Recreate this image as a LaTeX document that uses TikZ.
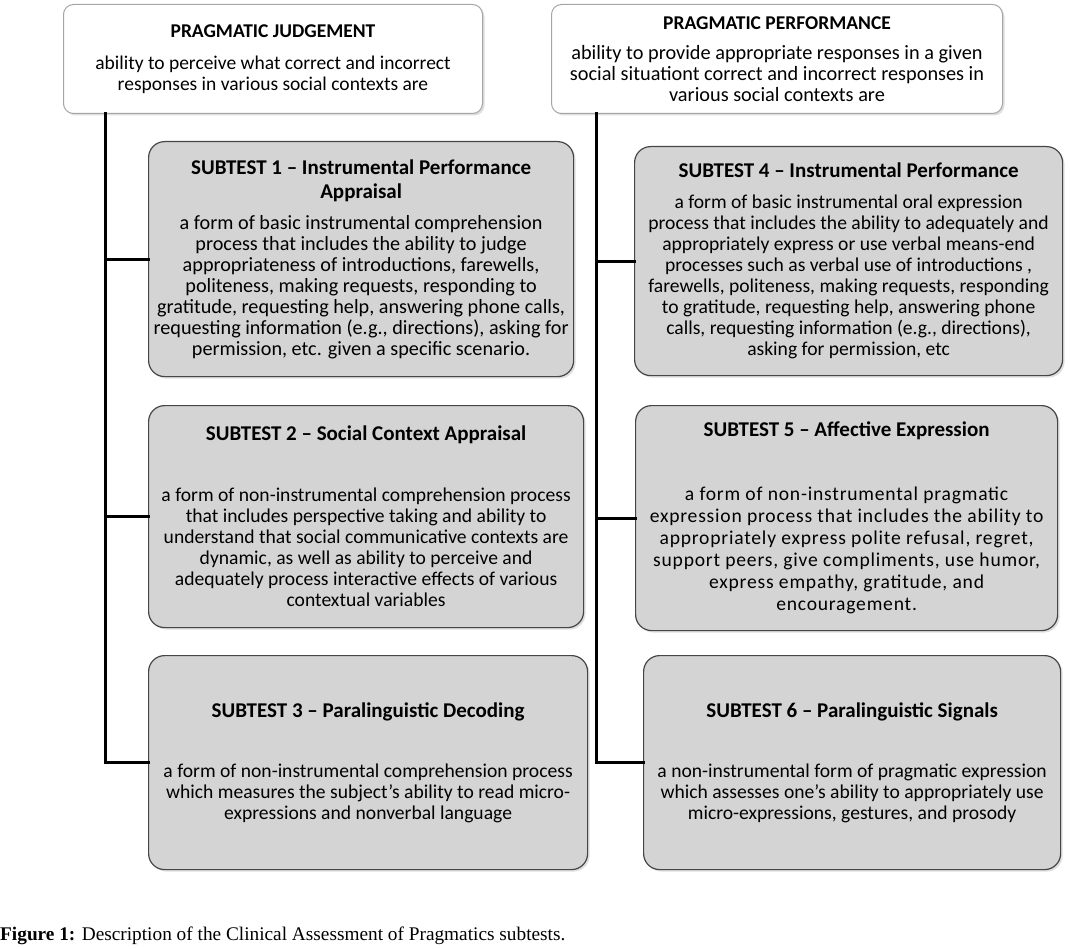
\documentclass[tikz,border=0pt]{standalone}
\usepackage{fontspec}
\setmainfont{Carlito}
\newfontfamily\capfont{Liberation Serif}
\usetikzlibrary{positioning,shadows}

\definecolor{testgray}{RGB}{212,212,212}
\definecolor{edgegray}{RGB}{70,70,70}
\definecolor{headedge}{RGB}{165,165,165}

\newcommand\txtsize[2]{\fontsize{#1}{#2}\selectfont}
\newcommand\subtitle[1]{{\txtsize{21}{24}\addfontfeatures{LetterSpace=0}\bfseries #1}}

\tikzset{
  headbox/.style={draw=headedge, fill=white, rounded corners=10pt, line width=1pt,
    anchor=north west, align=center, inner sep=0pt,
    drop shadow={opacity=0.25, shadow xshift=2pt, shadow yshift=-2pt}},
  testbox/.style={draw=edgegray, fill=testgray, rounded corners=16pt, line width=1.2pt,
    anchor=north west, align=center, inner sep=0pt,
    drop shadow={opacity=0.25, shadow xshift=2pt, shadow yshift=-2pt}},
  branch/.style={line width=3pt, line cap=rect}
}

\begin{document}
\begin{tikzpicture}[x=1pt, y=-1pt, font=\txtsize{19.6}{21}]
  \useasboundingbox (0,0) rectangle (1070,949);

  % the two main abilities
  \node[headbox, minimum width=419pt, minimum height=109pt, font=\txtsize{19.5}{21}] (judge) at (63,4)
    {\textbf{PRAGMATIC JUDGEMENT}\\[11pt]ability to perceive what correct and incorrect\\responses in various social contexts are};
  \node[headbox, minimum width=451pt, minimum height=109pt, font=\txtsize{20.3}{21}] (perf) at (551,4)
    {{\txtsize{19.5}{21}\bfseries PRAGMATIC PERFORMANCE}\\[9pt]ability to provide appropriate responses in a given\\social situationt correct and incorrect responses in\\various social contexts are};

  % judgement subtests
  \node[testbox, minimum width=425pt, minimum height=235pt, font=\txtsize{20.2}{21}] (sub1) at (148,141)
    {\subtitle{SUBTEST 1 -- Instrumental Performance}\\[3pt]\subtitle{Appraisal}\\[10pt]a form of basic instrumental comprehension\\process that includes the ability to judge\\appropriateness of introductions, farewells,\\politeness, making requests, responding to\\gratitude, requesting help, answering phone calls,\\requesting information (e.g., directions), asking for\\permission, etc. given a specific scenario.};
  \node[testbox, minimum width=435pt, minimum height=222pt] (sub2) at (148,405)
    {\subtitle{SUBTEST 2 -- Social Context Appraisal}\\[40pt]a form of non-instrumental comprehension process\\that includes perspective taking and ability to\\understand that social communicative contexts are\\dynamic, as well as ability to perceive and\\adequately process interactive effects of various\\contextual variables};
  \node[testbox, minimum width=439pt, minimum height=214pt] (sub3) at (148,655)
    {\subtitle{SUBTEST 3 -- Paralinguistic Decoding}\\[39pt]a form of non-instrumental comprehension process\\which measures the subject's ability to read micro-\\expressions and nonverbal language};

  % performance subtests
  \node[testbox, minimum width=428pt, minimum height=229pt] (sub4) at (634,146)
    {\subtitle{SUBTEST 4 -- Instrumental Performance}\\[10pt]a form of basic instrumental oral expression\\process that includes the ability to adequately and\\appropriately express or use verbal means-end\\processes such as verbal use of introductions ,\\farewells, politeness, making requests, responding\\to gratitude, requesting help, answering phone\\calls, requesting information (e.g., directions),\\asking for permission, etc};
  \node[testbox, minimum width=422pt, minimum height=225pt, font=\txtsize{19.6}{22}\addfontfeatures{LetterSpace=4}] (sub5) at (635,405)
    {\subtitle{SUBTEST 5 -- Affective Expression}\\[42pt]a form of non-instrumental pragmatic\\expression process that includes the ability to\\appropriately express polite refusal, regret,\\support peers, give compliments, use humor,\\express empathy, gratitude, and\\encouragement.};
  \node[testbox, minimum width=417pt, minimum height=214pt] (sub6) at (643,655)
    {\subtitle{SUBTEST 6 -- Paralinguistic Signals}\\[39pt]a non-instrumental form of pragmatic expression\\which assesses one's ability to appropriately use\\micro-expressions, gestures, and prosody};

  % spines
  \coordinate (jspine) at (105,0);
  \coordinate (pspine) at (596,0);
  \draw[branch] (judge.south -| jspine) |- (sub3.west);
  \draw[branch] (sub1.west) -- (sub1.west -| jspine);
  \draw[branch] (sub2.west) -- (sub2.west -| jspine);
  \draw[branch] (perf.south -| pspine) |- (sub6.west);
  \draw[branch] (sub4.west) -- (sub4.west -| pspine);
  \draw[branch] (sub5.west) -- (sub5.west -| pspine);

  % caption
  \node[anchor=base west, inner sep=0pt, font=\capfont\txtsize{19.3}{21}] (caption) at (0,940)
    {\textbf{Figure 1:} Description of the Clinical Assessment of Pragmatics subtests.};
\end{tikzpicture}
\end{document}
